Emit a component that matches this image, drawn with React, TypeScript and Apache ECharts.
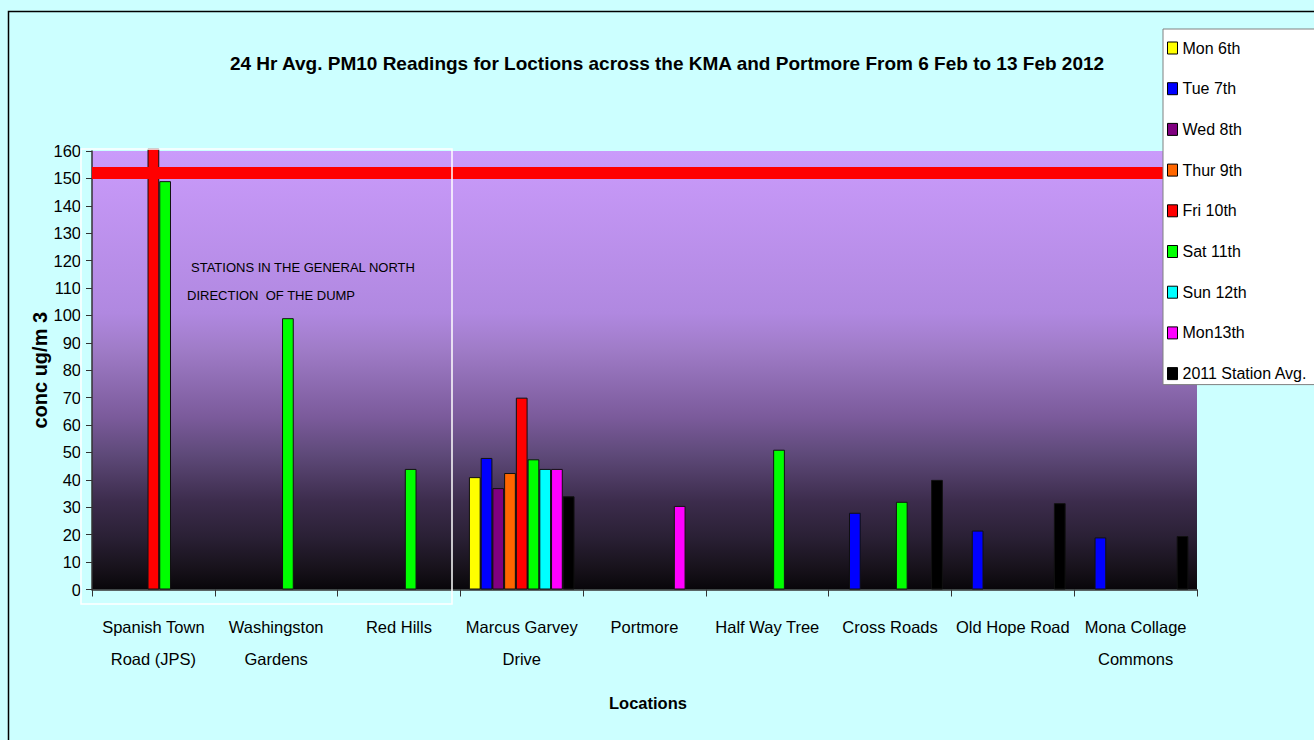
import React, { useEffect, useRef } from "react";
import * as echarts from "echarts";

const categories = [
  "Spanish Town\nRoad (JPS)",
  "Washingston\nGardens",
  "Red Hills",
  "Marcus Garvey\nDrive",
  "Portmore",
  "Half Way Tree",
  "Cross Roads",
  "Old Hope Road",
  "Mona Collage\nCommons",
];

const seriesNames = [
  "Mon 6th",
  "Tue 7th",
  "Wed 8th",
  "Thur 9th",
  "Fri 10th",
  "Sat 11th",
  "Sun 12th",
  "Mon13th",
  "2011 Station Avg.",
];

const seriesColors = [
  "#FFFF00",
  "#0000FF",
  "#800080",
  "#FF6600",
  "#FF0000",
  "#00FF00",
  "#00FFFF",
  "#FF00FF",
  "#000000",
];

const mon6 = [null, null, null, 41, null, null, null, null, null];
const tue7 = [null, null, null, 48, null, null, 28, 21.5, 19];
const wed8 = [null, null, null, 37, null, null, null, null, null];
const thur9 = [null, null, null, 42.5, null, null, null, null, null];
const fri10 = [161, null, null, 70, null, null, null, null, null];
const sat11 = [149, 99, 44, 47.5, null, 51, 32, null, null];
const sun12 = [null, null, null, 44, null, null, null, null, null];
const mon13 = [null, null, null, 44, 30.5, null, null, null, null];
const avg2011 = [null, null, null, 34, null, null, 40, 31.5, 19.5];

const seriesValues = [mon6, tue7, wed8, thur9, fri10, sat11, sun12, mon13, avg2011];

const yTicks = { min: 0, max: 160, interval: 10 };
const standardLevel = 152;

const FONT = "'Liberation Sans', Arial, sans-serif";

export default function App() {
  const ref = useRef<HTMLDivElement>(null);

  useEffect(() => {
    if (!ref.current) return;
    const chart = echarts.init(ref.current, undefined, { renderer: "svg" });

    const series: any[] = seriesNames.map((name, i) => ({
      name,
      type: "bar",
      data: seriesValues[i],
      barGap: "0%",
      barCategoryGap: "14%",
      clip: false,
      itemStyle: {
        color: seriesColors[i],
        borderColor: "#111111",
        borderWidth: 1,
      },
      emphasis: { disabled: true },
      z: 3,
    }));

    series[4].markLine = {
      silent: true,
      symbol: "none",
      label: { show: false },
      lineStyle: { color: "#FF0000", width: 12, type: "solid", opacity: 1 },
      emphasis: { disabled: true },
      data: [{ yAxis: standardLevel }],
      z: 4,
    };

    chart.setOption({
      animation: false,
      backgroundColor: "#CCFFFF",
      title: {
        text: "24 Hr Avg. PM10 Readings for Loctions across the KMA and Portmore From 6 Feb to 13 Feb 2012",
        left: 662,
        top: 49,
        textAlign: "center",
        textStyle: {
          fontFamily: FONT,
          fontWeight: "bold",
          fontSize: 19,
          color: "#000",
        },
      },
      legend: {
        orient: "vertical",
        left: 1163,
        top: 29,
        padding: [9, 30, 1, 4],
        itemGap: 20.7,
        itemWidth: 10,
        itemHeight: 12,
        icon: "rect",
        backgroundColor: "#FFFFFF",
        borderColor: "#808080",
        borderWidth: 1,
        borderRadius: 0,
        itemStyle: { borderColor: "#000", borderWidth: 1 },
        textStyle: {
          fontFamily: FONT,
          fontSize: 16,
          lineHeight: 20,
          color: "#000",
        },
        data: seriesNames,
        selectedMode: false,
        z: 10,
      },
      grid: {
        left: 92,
        right: 117,
        top: 151,
        bottom: 150.5,
        show: true,
        borderWidth: 0,
        backgroundColor: new echarts.graphic.LinearGradient(0, 0, 0, 1, [
          { offset: 0, color: "#CA9BFB" },
          { offset: 0.37, color: "#B088E0" },
          { offset: 0.45, color: "#A07CC8" },
          { offset: 0.61, color: "#7A5A9A" },
          { offset: 0.69, color: "#5F4A7A" },
          { offset: 0.8, color: "#3C2C4C" },
          { offset: 0.88, color: "#2A2035" },
          { offset: 0.96, color: "#151018" },
          { offset: 1, color: "#08060A" },
        ]),
      },
      xAxis: {
        type: "category",
        data: categories,
        name: "Locations",
        nameLocation: "middle",
        nameGap: 105,
        nameMoveOverlap: false,
        nameTextStyle: {
          fontFamily: FONT,
          fontWeight: "bold",
          fontSize: 16.5,
          color: "#000",
          padding: [0, 0, 0, 7],
        },
        axisLine: { show: true, lineStyle: { color: "#333333", width: 1.5 } },
        axisTick: {
          show: true,
          alignWithLabel: false,
          length: 7,
          inside: false,
          lineStyle: { color: "#333333", width: 1 },
        },
        axisLabel: {
          interval: 0,
          margin: 21,
          fontFamily: FONT,
          fontSize: 16.5,
          lineHeight: 32,
          color: "#000",
        },
        splitLine: { show: false },
      },
      yAxis: {
        type: "value",
        min: yTicks.min,
        max: yTicks.max,
        interval: yTicks.interval,
        name: "conc ug/m 3",
        nameLocation: "middle",
        nameRotate: 90,
        nameGap: 42,
        nameMoveOverlap: false,
        nameTextStyle: {
          fontFamily: FONT,
          fontWeight: "bold",
          fontSize: 20,
          color: "#000",
        },
        axisLine: { show: true, lineStyle: { color: "#333333", width: 1.5 } },
        axisTick: { show: true, length: 6, lineStyle: { color: "#333333", width: 1 } },
        axisLabel: {
          margin: 11,
          fontFamily: FONT,
          fontSize: 16.5,
          color: "#000",
        },
        splitLine: { show: false },
      },
      graphic: [
        {
          type: "rect",
          left: 6,
          top: 9,
          shape: { x: 0, y: 0, width: 1400, height: 800 },
          style: { fill: "none", stroke: "#000", lineWidth: 1.5 },
          silent: true,
          z: 0,
        },
        {
          type: "rect",
          shape: { x: 81, y: 149, width: 371, height: 455 },
          style: { fill: "none", stroke: "#FFFFFF", lineWidth: 1.5 },
          silent: true,
          z: 20,
        },
        {
          type: "text",
          x: 191,
          y: 267,
          style: {
            text: "STATIONS IN THE GENERAL NORTH",
            fontFamily: FONT,
            fontSize: 13,
            fill: "#000",
            verticalAlign: "middle",
            align: "left",
          },
          silent: true,
          z: 20,
        },
        {
          type: "text",
          x: 187,
          y: 295,
          style: {
            text: "DIRECTION  OF THE DUMP",
            fontFamily: FONT,
            fontSize: 13,
            fill: "#000",
            verticalAlign: "middle",
            align: "left",
          },
          silent: true,
          z: 20,
        },
      ],
      series,
    });

    return () => {
      chart.dispose();
    };
  }, []);

  return (
    <div
      ref={ref}
      style={{ position: "fixed", left: 0, top: 0, width: 1314, height: 740 }}
    />
  );
}
